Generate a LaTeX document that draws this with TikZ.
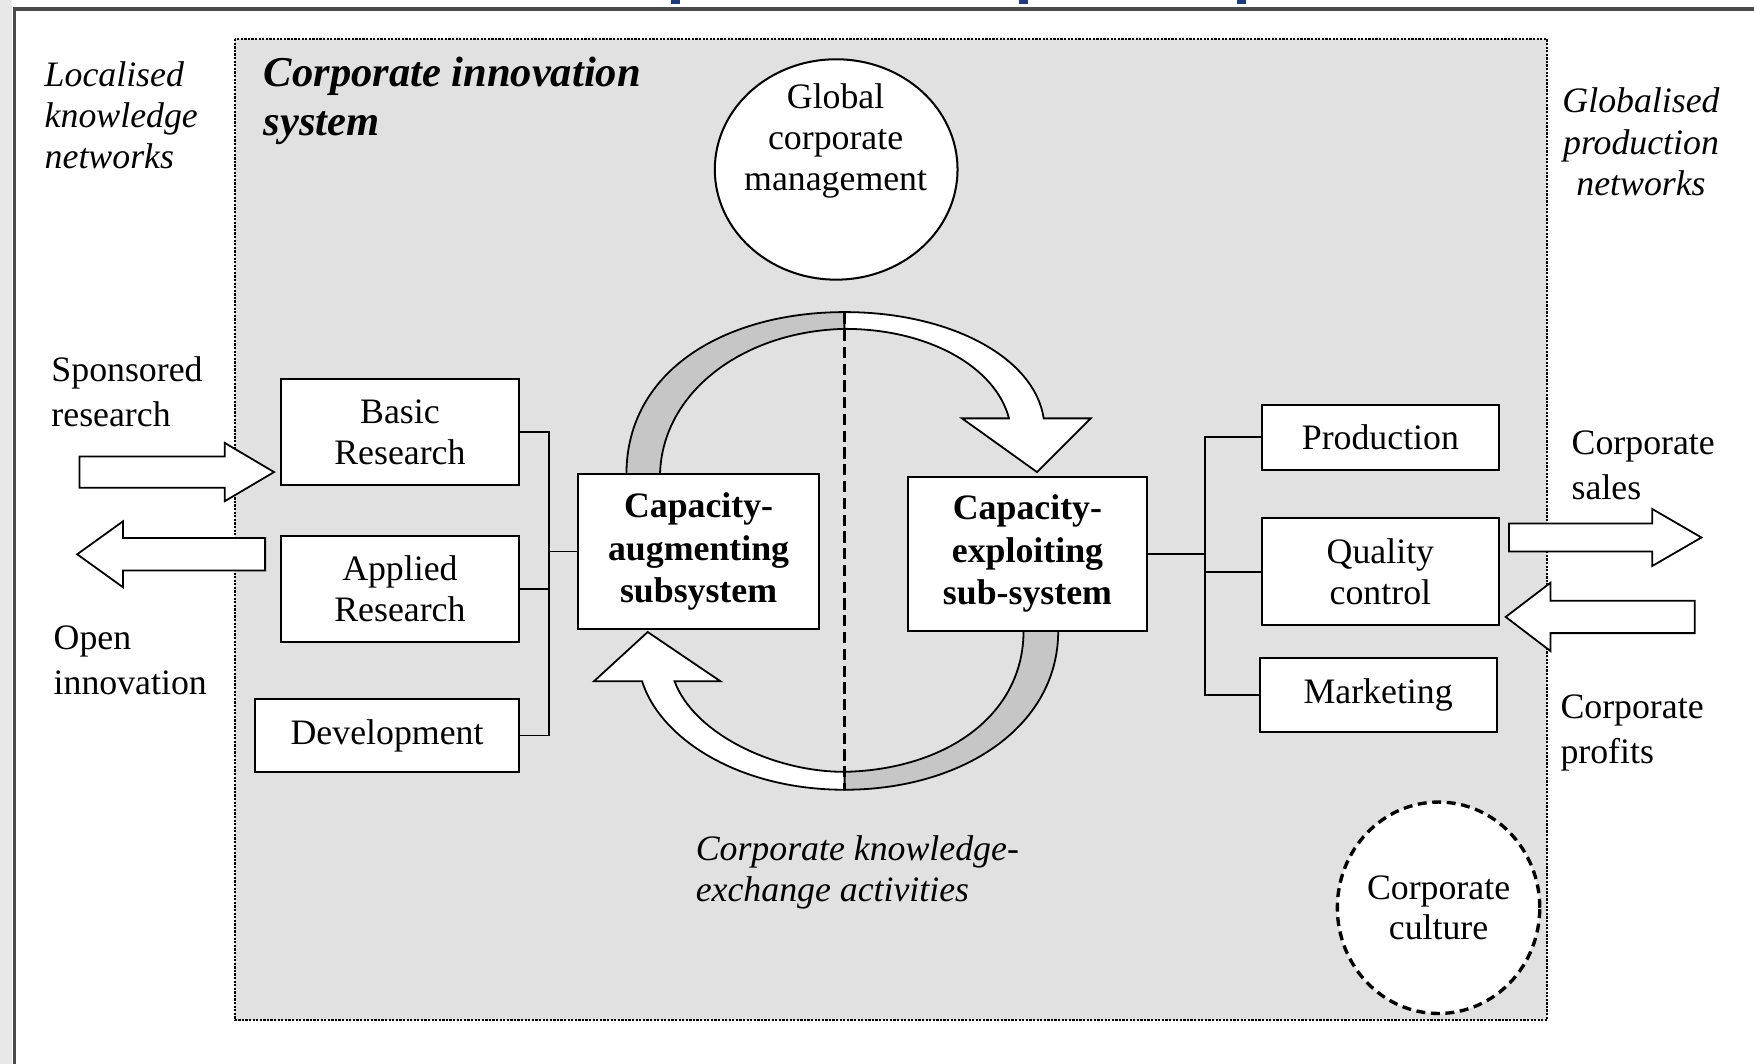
\documentclass[tikz,border=0pt]{standalone}
\usepackage{fontspec}
\setmainfont{Liberation Serif}
\usetikzlibrary{shapes.geometric}
\definecolor{boxgray}{HTML}{E1E1E1}
\definecolor{bandgray}{HTML}{C6C6C6}
\definecolor{framegray}{HTML}{4A4A4A}
\definecolor{slideblue}{HTML}{1F3A7A}
\begin{document}
\begin{tikzpicture}[x=0.5pt,y=-0.5pt,
  every node/.style={inner sep=0pt, outer sep=0pt, text=black},
  lbl/.style={font=\fontsize{16}{20}\selectfont, align=left, anchor=west},
  ilbl/.style={font=\fontsize{16}{18.5}\selectfont\itshape, align=left, anchor=west},
  blk/.style={draw=black, line width=0.9pt, fill=white, font=\fontsize{16}{18.5}\selectfont, align=center},
  bblk/.style={blk, font=\fontsize{16}{19}\selectfont\bfseries},
  wire/.style={draw=black, line width=0.8pt},
  hollow/.style={draw=black, line width=0.8pt, fill=white, line join=miter},
  band/.style={draw=black, line width=0.8pt, fill=bandgray},
  wband/.style={draw=black, line width=0.8pt, fill=white},
]
\useasboundingbox (0,0) rectangle (1568,951);
\fill[white] (0,0) rectangle (1568,951);
\fill[gray!18] (0,0) rectangle (11,951);
\fill[slideblue] (600,0) rectangle (608,4);
\fill[slideblue] (911,0) rectangle (919,4);
\fill[slideblue] (1106,0) rectangle (1114,4);
\draw[framegray, line width=1.4pt] (13,951) -- (13,8) -- (1568,8);

% system boundary
\draw[fill=boxgray, line width=1.1pt, dash pattern=on 1pt off 0.6pt] (210,35) rectangle (1383,912);

% outside labels
\node[ilbl] (loc) at (40,103) {Localised\\knowledge\\networks};
\node[font=\fontsize{16}{18.5}\selectfont\itshape, align=center] (glob) at (1467,127) {Globalised\\production\\networks};
\node[font=\fontsize{19}{22}\selectfont\bfseries\itshape, align=left, anchor=west] (cis) at (236,90) {Corporate innovation\\system};

% global management
\node[draw=black, line width=0.9pt, fill=white, ellipse, minimum width=108.5pt, minimum height=98.5pt] (gcm) at (747.5,151.5) {};
\node[font=\fontsize{16}{18.5}\selectfont, align=center] (gcmt) at (747,126) {Global\\corporate\\management};

% loop bands
\draw[band] (560,424) .. controls (560,330) and (650,279) .. (755,279) -- (755,294) .. controls (665,296) and (592,350) .. (590,424) -- cycle;
\draw[wband] (755,279) .. controls (850,279) and (925,320) .. (933,374) -- (975,374) -- (927,422) -- (860,374) -- (902,374) .. controls (890,328) and (830,294) .. (755,294) -- cycle;
\draw[band] (946,564) .. controls (946,650) and (860,706) .. (755,706) -- (755,690) .. controls (845,688) and (915,640) .. (915,564) -- cycle;
\draw[wband] (755,706) .. controls (660,706) and (590,660) .. (574,609) -- (531,609) -- (579,565) -- (644,609) -- (603,609) .. controls (620,655) and (690,690) .. (755,690) -- cycle;
\draw[line width=1.3pt, dash pattern=on 5pt off 2.5pt] (755,280) -- (755,705);

% left boxes
\node[blk, minimum width=106.5pt, minimum height=47.5pt] (basic) at (357.5,386.5) {Basic\\Research};
\node[blk, minimum width=106.5pt, minimum height=47.5pt] (applied) at (357.5,526.5) {Applied\\Research};
\node[blk, minimum width=118pt, minimum height=32.5pt] (dev) at (346,657.5) {Development};
\node[bblk, minimum width=107.5pt, minimum height=69pt] (aug) at (624.5,493) {Capacity-\\augmenting\\subsystem};
\node[bblk, minimum width=106.5pt, minimum height=69pt] (expl) at (918.5,495) {Capacity-\\exploiting\\sub-system};
\node[blk, minimum width=106pt, minimum height=29pt] (prod) at (1234,391) {Production};
\node[blk, minimum width=106pt, minimum height=48pt] (qual) at (1234,511) {Quality\\control};
\node[blk, minimum width=106pt, minimum height=33pt] (mkt) at (1232,621) {Marketing};

% connectors
\coordinate (lj) at (491,493);
\coordinate (rj) at (1077,495);
\draw[wire] (basic.east) -| (lj);
\draw[wire] (dev.east) -| (lj);
\draw[wire] (applied.east) -- (applied.east -| lj);
\draw[wire] (lj) -- (aug.west);
\draw[wire] (expl.east) -- (rj);
\draw[wire] (prod.west) -| (rj);
\draw[wire] (mkt.west) -| (rj);
\draw[wire] (qual.west) -- (qual.west -| rj);

% hollow block arrows
\draw[hollow] (71,408) -- (201,408) -- (201,396) -- (245,422) -- (201,448) -- (201,436) -- (71,436) -- cycle;
\draw[hollow] (237,481) -- (110,481) -- (110,466) -- (69,495.5) -- (110,525) -- (110,510) -- (237,510) -- cycle;
\draw[hollow] (1349,468) -- (1477,468) -- (1477,455) -- (1521,480.5) -- (1477,506) -- (1477,493) -- (1349,493) -- cycle;
\draw[hollow] (1515,537) -- (1386,537) -- (1386,521) -- (1346,551.5) -- (1386,582) -- (1386,566) -- (1515,566) -- cycle;

% arrow labels
\node[lbl] (spon) at (46,350) {Sponsored\\research};
\node[lbl] (open) at (48,590) {Open\\innovation};
\node[lbl] (sales) at (1405,416) {Corporate\\sales};
\node[lbl] (profits) at (1395,655) {Corporate\\profits};

% bottom
\node[ilbl] (ckea) at (622,780) {Corporate knowledge-\\exchange activities};
\node[draw=black, line width=1.5pt, dash pattern=on 4pt off 2.5pt, fill=white, ellipse, minimum width=90pt, minimum height=94.5pt, font=\fontsize{16}{17.5}\selectfont, align=center] (cult) at (1286,811.5) {Corporate\\culture};
\end{tikzpicture}
\end{document}
